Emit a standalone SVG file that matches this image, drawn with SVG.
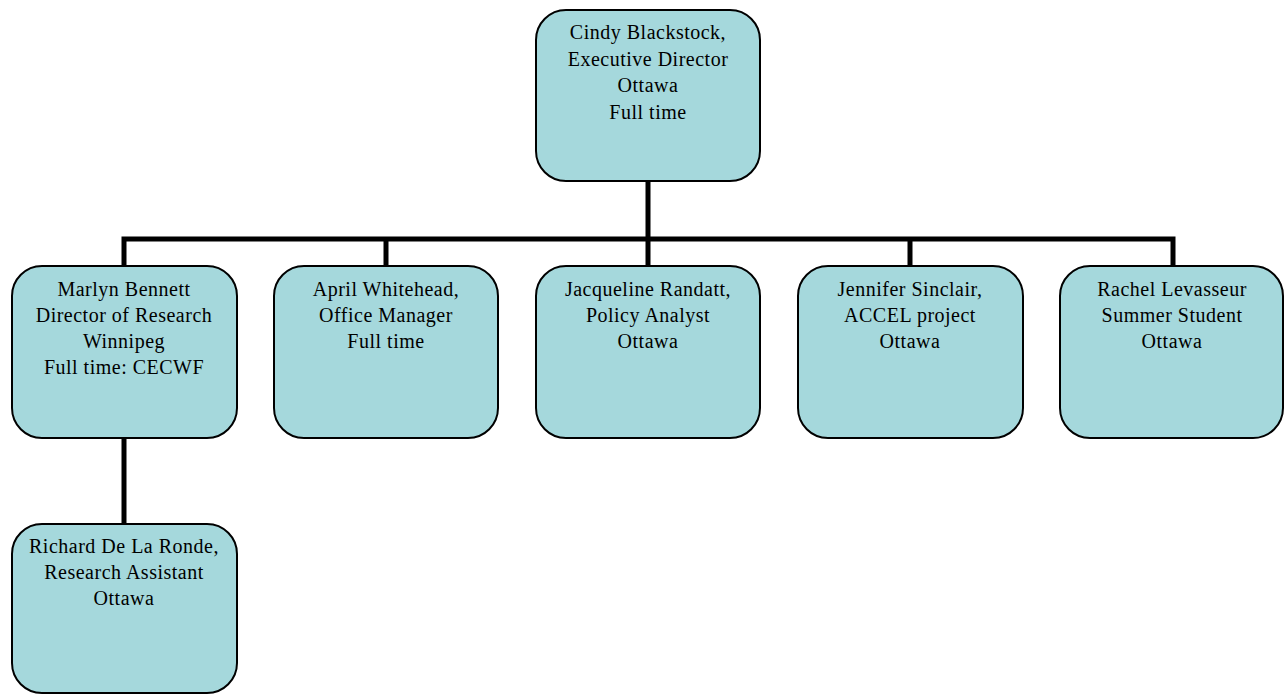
<svg xmlns="http://www.w3.org/2000/svg" width="1284" height="694" viewBox="0 0 1284 694">
<style>
.box{fill:#A5D8DC;stroke:#000;stroke-width:2}
.t{font-family:"Liberation Serif",serif;font-size:20px;letter-spacing:0.5px;fill:#000;text-anchor:middle}
.c{fill:none;stroke:#000;stroke-width:5}
</style>
<rect width="1284" height="694" fill="#fff"/>
<g id="connectors">
<path class="c" d="M648 181V239M124 239H1173M124 236.5V266M386 236.5V266M648 236.5V266M910 236.5V266M1173 236.5V266M124 438V524"/>
</g>
<g id="n-cindy"><rect class="box" x="536" y="10" width="224" height="171" rx="30"/>
<text class="t" x="648" y="39"><tspan x="648">Cindy Blackstock,</tspan><tspan x="648" dy="26.5">Executive Director</tspan><tspan x="648" dy="26.5">Ottawa</tspan><tspan x="648" dy="26.5">Full time</tspan></text></g>
<g id="n-marlyn"><rect class="box" x="12" y="266" width="225" height="172" rx="30"/>
<text class="t" x="124" y="296"><tspan x="124">Marlyn Bennett</tspan><tspan x="124" dy="26">Director of Research</tspan><tspan x="124" dy="26">Winnipeg</tspan><tspan x="124" dy="26">Full time: CECWF</tspan></text></g>
<g id="n-april"><rect class="box" x="274" y="266" width="224" height="172" rx="30"/>
<text class="t" x="386" y="296"><tspan x="386">April Whitehead,</tspan><tspan x="386" dy="26">Office Manager</tspan><tspan x="386" dy="26">Full time</tspan></text></g>
<g id="n-jacqueline"><rect class="box" x="536" y="266" width="224" height="172" rx="30"/>
<text class="t" x="648" y="296"><tspan x="648">Jacqueline Randatt,</tspan><tspan x="648" dy="26">Policy Analyst</tspan><tspan x="648" dy="26">Ottawa</tspan></text></g>
<g id="n-jennifer"><rect class="box" x="798" y="266" width="225" height="172" rx="30"/>
<text class="t" x="910" y="296"><tspan x="910">Jennifer Sinclair,</tspan><tspan x="910" dy="26">ACCEL project</tspan><tspan x="910" dy="26">Ottawa</tspan></text></g>
<g id="n-rachel"><rect class="box" x="1060" y="266" width="223" height="172" rx="30"/>
<text class="t" x="1172" y="296"><tspan x="1172">Rachel Levasseur</tspan><tspan x="1172" dy="26">Summer Student</tspan><tspan x="1172" dy="26">Ottawa</tspan></text></g>
<g id="n-richard"><rect class="box" x="12" y="524" width="225" height="169" rx="30"/>
<text class="t" x="124" y="553"><tspan x="124">Richard De La Ronde,</tspan><tspan x="124" dy="26">Research Assistant</tspan><tspan x="124" dy="26">Ottawa</tspan></text></g>
</svg>
